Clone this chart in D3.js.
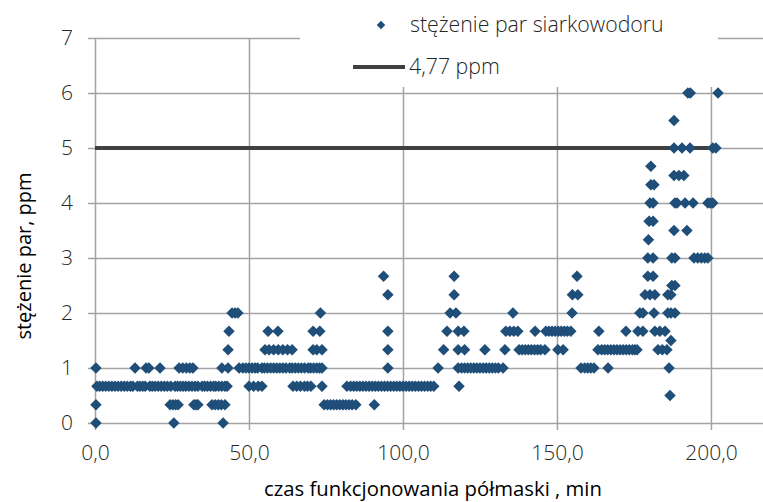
<!DOCTYPE html>
<html>
<head>
<meta charset="utf-8">
<script src="https://cdn.jsdelivr.net/npm/d3@7"></script>
<style>
  html, body { margin: 0; padding: 0; background: #fff; }
  #chart { width: 763px; height: 502px; overflow: hidden; }
</style>
</head>
<body>
<div id="chart"></div>
<script>
// Odczyty stężenia H2S: czasy pomiaru (min) pogrupowane wg poziomu stężenia (ppm)
const t_0_00 = [0.3, 25.6, 41.6];
const t_0_33 = [0.3, 24.4, 25.3, 26.2, 27, 32.1, 32.8, 33.4, 38, 39, 40, 41, 42.2,
  74.4, 75.5, 76.5, 77.5, 78.5, 79.5, 80.5, 81.5, 82.5, 83.5, 84.7, 90.7];
const t_0_50 = [186.7];
const t_0_67 = [0.6, 1.5, 2.5, 3.5, 4.5, 5.5, 6.5, 7.5, 8.5, 9.5, 10.5, 11.5, 12.3, 13.8, 14.6,
  15.5, 16.3, 17.8, 18.6, 19.5, 20.5, 21.5, 22.5, 23.5, 24.6, 26, 26.8, 27.7, 28.6, 29.5, 30.5,
  31.5, 32.5, 33.4, 34.8, 35.6, 36.5, 37.5, 38.5, 39.2, 40.2, 41.2, 42.2, 42.9,
  50, 51.5, 53, 54.2, 64.3, 65.5, 66.7, 68, 69, 70.1, 73.7,
  81.8, 83, 84, 85, 86, 87, 88, 89, 90, 91, 92, 93, 94, 95, 96, 97, 98, 99, 100,
  101, 102, 103, 104, 105, 106, 107, 108, 109, 110, 118.2];
const t_1_00 = [0.3, 13, 16.6, 17.5, 21.1, 27.3, 28.5, 29.7, 30.8, 31.8, 41.2, 43.2,
  46.8, 48, 49, 50, 51, 52, 52.8, 54.2, 55, 56, 57, 58, 59, 60, 61, 62, 63.2, 64, 65, 66, 67,
  68, 69.2, 70, 71, 72, 72.9, 73.7, 95.1, 111.4,
  117.9, 119, 120, 121, 122, 123, 124, 125, 126, 127, 128, 129, 130, 131, 132.5,
  157.8, 159, 160, 161, 162, 166.6, 186.4];
const t_1_33 = [43.2, 55.2, 56.5, 58, 59.5, 61, 62.5, 64, 70.8, 72, 73.7, 95.1, 113.2,
  117.9, 120, 126.6, 133.1, 137.7, 138.7, 139.7, 140.7, 141.7, 142.7, 143.7, 144.7, 146.1,
  150.3, 152, 163.3, 164.5, 165.5, 166.5, 167.5, 168.5, 169.5, 170.5, 171.5, 172.5, 173.5,
  174.5, 175.3, 176, 182.8, 184.2, 185.7];
const t_1_50 = [187];
const t_1_67 = [43.5, 56.2, 59.4, 70.8, 73, 95.1, 114.3, 117.9, 119.8, 133.4, 134.7, 136,
  137.3, 142.9, 146.4, 147.4, 148.4, 149.4, 150.4, 151.4, 152.4, 153.4, 154.5, 163.6, 172.4,
  176.3, 177.9, 181.8, 183.4, 185.1];
const t_2_00 = [44.5, 45.5, 46.4, 73.2, 115.3, 117.2, 135.7, 154.9, 176.9, 177.9, 181.5,
  186, 187, 188.3];
const t_2_33 = [95.1, 116.6, 155, 156.8, 178.6, 180.2, 181.8, 186, 187];
const t_2_50 = [187.3, 188.3];
const t_2_67 = [93.7, 116.6, 156.5, 179.5, 181.2];
const t_3_00 = [179.5, 181.2, 187.3, 188.3, 194.5, 195.7, 196.9, 198, 199];
const t_3_33 = [179.7];
const t_3_50 = [188, 192.2];
const t_3_67 = [179.9, 181.2];
const t_4_00 = [180.2, 181.2, 188.3, 189, 191.6, 194.2, 199, 199.8, 200.6];
const t_4_33 = [180.5, 181.5];
const t_4_50 = [188, 189.6, 191.2];
const t_4_67 = [180.5];
const t_5_00 = [188, 190.6, 193.2, 200.6, 201.6];
const t_5_50 = [188];
const t_6_00 = [192.5, 193.3, 202.3];

// poziomy stężenia, ppm
const levels = [0, 1 / 3, 0.5, 2 / 3, 1, 4 / 3, 1.5, 5 / 3, 2, 7 / 3, 2.5, 8 / 3, 3,
  10 / 3, 3.5, 11 / 3, 4, 13 / 3, 4.5, 14 / 3, 5, 5.5, 6];
const levelTimes = [t_0_00, t_0_33, t_0_50, t_0_67, t_1_00, t_1_33, t_1_50, t_1_67, t_2_00,
  t_2_33, t_2_50, t_2_67, t_3_00, t_3_33, t_3_50, t_3_67, t_4_00, t_4_33, t_4_50, t_4_67,
  t_5_00, t_5_50, t_6_00];

// linia odniesienia
const limitTimes = [0, 202];
const limitValue = 5;

const xTicks = [0, 50, 100, 150, 200];
const yTicks = [0, 1, 2, 3, 4, 5, 6, 7];

const seriesLabel = "stężenie par siarkowodoru";
const limitLabel = "4,77 ppm";
const xTitle = "czas funkcjonowania półmaski , min";
const yTitle = "stężenie par, ppm";

// ---------------------------------------------------------------
const W = 763, H = 502;
const FONT = "'Open Sans', Lato, sans-serif";
const gridColor = "#a3a3a3";
const markerColor = "#1f4e79";
const lineColor = "#404040";

const plFormat = d3.formatLocale({decimal: ",", thousands: " ", grouping: [3], currency: ["", " zł"]})
  .format(".1f");

// romb jak w Excelu (symetryczny)
const diamond = {
  draw(context, size) {
    const r = Math.sqrt(size) / 2;
    context.moveTo(0, -r);
    context.lineTo(r, 0);
    context.lineTo(0, r);
    context.lineTo(-r, 0);
    context.closePath();
  }
};

const points = levels.flatMap((v, i) => levelTimes[i].map(t => ({t, v})));
const limitData = limitTimes.map(t => ({t, v: limitValue}));

const svg = d3.select("#chart")
  .append("svg")
  .attr("width", W)
  .attr("height", H)
  .style("display", "block");

const x = d3.scaleLinear().domain([0, 216.9]).range([95, 763]);
const y = d3.scaleLinear().domain([0, 7]).range([423, 38]);

function styleTicks(g) {
  g.select(".domain").remove();
  g.selectAll(".tick line").attr("stroke", gridColor).attr("stroke-width", 1.5);
  g.selectAll(".tick text")
    .attr("fill", "#262626")
    .style("font-family", FONT)
    .style("font-size", "21px")
    .style("font-weight", 300);
}

// pionowe linie siatki + etykiety osi X
svg.append("g")
  .attr("transform", `translate(0,${y(0) + 7})`)
  .call(d3.axisBottom(x)
    .tickValues(xTicks)
    .tickSize(-(y(0) + 7 - y(7)))
    .tickPadding(15)
    .tickFormat(plFormat))
  .call(styleTicks);

// poziome linie siatki + etykiety osi Y
svg.append("g")
  .attr("transform", `translate(${x(0) - 7},0)`)
  .call(d3.axisLeft(y)
    .tickValues(yTicks)
    .tickSize(-(W - x(0) + 7))
    .tickPadding(15)
    .tickFormat(d3.format("d")))
  .call(styleTicks);

// linia 4,77 ppm
svg.append("path")
  .datum(limitData)
  .attr("fill", "none")
  .attr("stroke", lineColor)
  .attr("stroke-width", 4)
  .attr("d", d3.line().x(d => x(d.t)).y(d => y(d.v)));

// punkty pomiarowe
svg.append("g")
  .selectAll("path")
  .data(points)
  .join("path")
  .attr("transform", d => `translate(${x(d.t)},${y(d.v)})`)
  .attr("d", d3.symbol(diamond, 132))
  .attr("fill", markerColor);

// legenda
const legend = svg.append("g");
legend.append("rect")
  .attr("x", 300).attr("y", 0)
  .attr("width", 418).attr("height", 87)
  .attr("fill", "#fff");
legend.append("path")
  .attr("transform", "translate(381,25)")
  .attr("d", d3.symbol(diamond, 72))
  .attr("fill", markerColor);
legend.append("text")
  .attr("x", 410).attr("y", 32)
  .text(seriesLabel);
legend.append("line")
  .attr("x1", 353).attr("x2", 405)
  .attr("y1", 67).attr("y2", 67)
  .attr("stroke", lineColor)
  .attr("stroke-width", 4);
legend.append("text")
  .attr("x", 409).attr("y", 74)
  .text(limitLabel);
legend.selectAll("text")
  .attr("fill", "#262626")
  .style("font-family", FONT)
  .style("font-size", "21.3px")
  .style("font-weight", 300);

// tytuły osi
svg.append("text")
  .attr("x", 433).attr("y", 496)
  .attr("text-anchor", "middle")
  .style("font-family", FONT)
  .style("font-size", "20.3px")
  .text(xTitle);

svg.append("text")
  .attr("transform", "translate(31,256) rotate(-90)")
  .attr("text-anchor", "middle")
  .style("font-family", FONT)
  .style("font-size", "20px")
  .text(yTitle);
</script>
</body>
</html>
